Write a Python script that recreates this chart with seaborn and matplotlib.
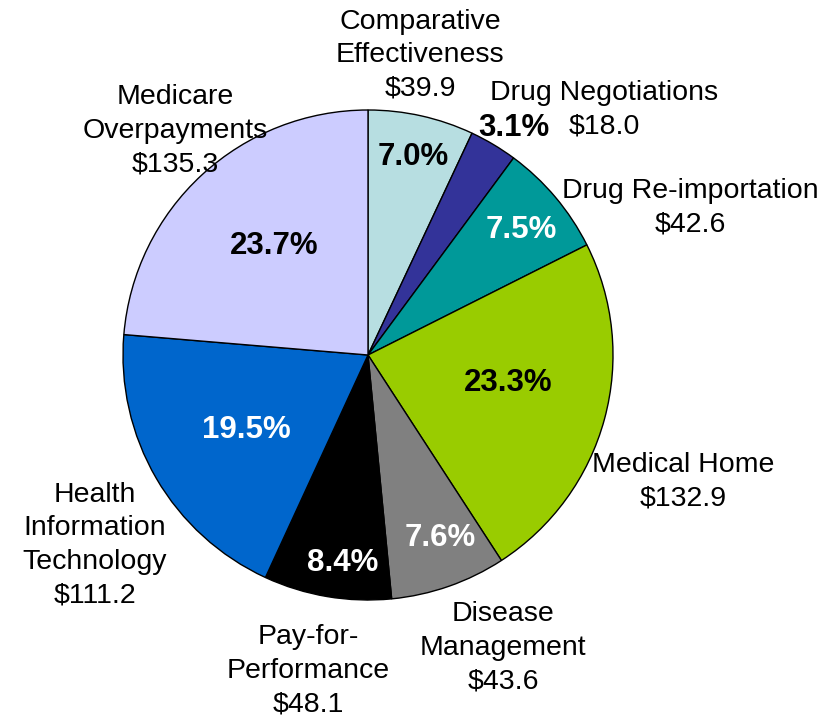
import matplotlib
matplotlib.use("Agg")
import matplotlib.pyplot as plt
import seaborn as sns

# slice data, clockwise from 12 o'clock
categories = ["Comparative\nEffectiveness", "Drug Negotiations", "Drug Re-importation",
              "Medical Home", "Disease\nManagement", "Pay-for-\nPerformance",
              "Health\nInformation\nTechnology", "Medicare\nOverpayments"]
values = [39.9, 18.0, 42.6, 132.9, 43.6, 48.1, 111.2, 135.3]
colors = ["#B7DEE1", "#333399", "#009999", "#99CC00", "#808080", "#000000", "#0066CC", "#CCCCFF"]
pct_colors = ["black", "black", "white", "black", "white", "white", "white", "black"]

# label placement (pie radius = 1)
name_pos = [(0.212, 1.224), (0.963, 1.0), (1.314, 0.60), (1.286, -0.518),
            (0.551, -1.196), (-0.245, -1.29), (-1.114, -0.776), (-0.788, 0.914)]
pct_pos = [(0.184, 0.808), (0.595, 0.927), (0.624, 0.51), (0.571, -0.114),
           (0.294, -0.747), (-0.102, -0.849), (-0.498, -0.306), (-0.384, 0.445)]

sns.set_style("white")
plt.rcParams['font.family'] = ['Liberation Sans', 'DejaVu Sans']
plt.rcParams['text.color'] = 'black'

fig = plt.figure(figsize=(8.39, 7.21), dpi=100)
ax = fig.add_axes([0, 0, 1, 1])
ax.pie(values, colors=colors, startangle=90, counterclock=False, radius=1,
       wedgeprops={'edgecolor': 'black', 'linewidth': 1})
ax.set_xlim(-368 / 245, (839 - 368) / 245)
ax.set_ylim(-(721 - 355) / 245, 355 / 245)
ax.set_aspect('auto')
ax.axis('off')

total = sum(values)
for cat, v, (x, y) in zip(categories, values, name_pos):
    ax.text(x, y, f"{cat}\n${v:.1f}", ha='center', va='center', fontsize=20.5,
            linespacing=1.38, color='black')
for v, c, (x, y) in zip(values, pct_colors, pct_pos):
    ax.text(x, y, f"{v / total * 100:.1f}%", ha='center', va='center',
            fontsize=22.5, fontweight='bold', color=c)

plt.savefig('out.png', dpi=100)
